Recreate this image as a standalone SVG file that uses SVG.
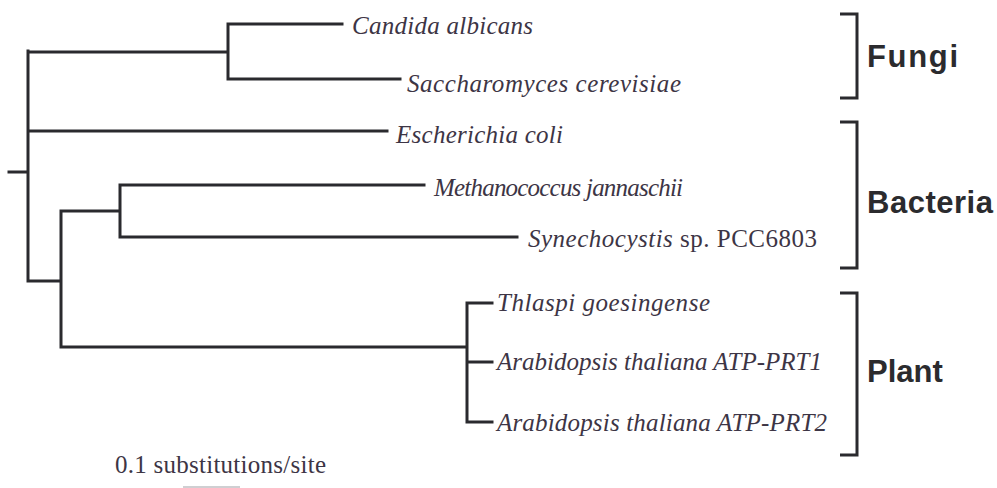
<svg xmlns="http://www.w3.org/2000/svg" width="997" height="488" viewBox="0 0 997 488">
<style>
.br{stroke:#2a2a2e;stroke-width:3;fill:none;stroke-linecap:square;stroke-linejoin:miter}
.bk{stroke:#2a2a2e;stroke-width:3;fill:none}
.tx{font-family:"Liberation Serif","Times New Roman",serif;font-size:25px;font-style:italic;fill:#3d3545}
.up{font-style:normal}
.grp{font-family:"Liberation Sans",Arial,sans-serif;font-size:31px;font-weight:bold;fill:#2b2b2e}
</style>
<rect width="997" height="488" fill="#ffffff"/>
<g id="connectors">
<path class="br" d="M9 172H28M28 51V281M28 52H228M228 24V79M228 24H342M228 79H400M28 131H387M28 281H61M61 211V347M61 211H120M120 185V237M120 185H424M120 237H517M61 347H467M467 303V422M467 303H492M467 362H492M467 422H492"/>
</g>
<g id="candida"><text class="tx" x="352" y="34" textLength="181" lengthAdjust="spacing">Candida albicans</text></g>
<g id="saccharomyces"><text class="tx" x="407" y="92" textLength="274" lengthAdjust="spacing">Saccharomyces cerevisiae</text></g>
<g id="ecoli"><text class="tx" x="396" y="143" textLength="167" lengthAdjust="spacing">Escherichia coli</text></g>
<g id="methanococcus"><text class="tx" x="434" y="196" textLength="249" lengthAdjust="spacing">Methanococcus jannaschii</text></g>
<g id="synechocystis"><text class="tx" x="528" y="247" textLength="289" lengthAdjust="spacing">Synechocystis<tspan class="up"> sp. PCC6803</tspan></text></g>
<g id="thlaspi"><text class="tx" x="497" y="311" textLength="213" lengthAdjust="spacing">Thlaspi goesingense</text></g>
<g id="ara1"><text class="tx" x="497" y="370" textLength="325" lengthAdjust="spacing">Arabidopsis thaliana ATP-PRT1</text></g>
<g id="ara2"><text class="tx" x="497" y="431" textLength="330" lengthAdjust="spacing">Arabidopsis thaliana ATP-PRT2</text></g>
<g id="fungi"><path class="bk" d="M840 14H857V98H840"/><text class="grp" x="867" y="67" textLength="91" lengthAdjust="spacing">Fungi</text></g>
<g id="bacteria"><path class="bk" d="M840 122H857V268H840"/><text class="grp" x="867" y="213" textLength="126" lengthAdjust="spacing">Bacteria</text></g>
<g id="plant"><path class="bk" d="M840 293H857V455H840"/><text class="grp" x="867" y="382">Plant</text></g>
<g id="scale"><text class="tx up" x="115" y="473" font-size="24" textLength="211" lengthAdjust="spacing">0.1 substitutions/site</text><path d="M183 487H240" stroke="#cfcfd2" stroke-width="2"/></g>
</svg>
